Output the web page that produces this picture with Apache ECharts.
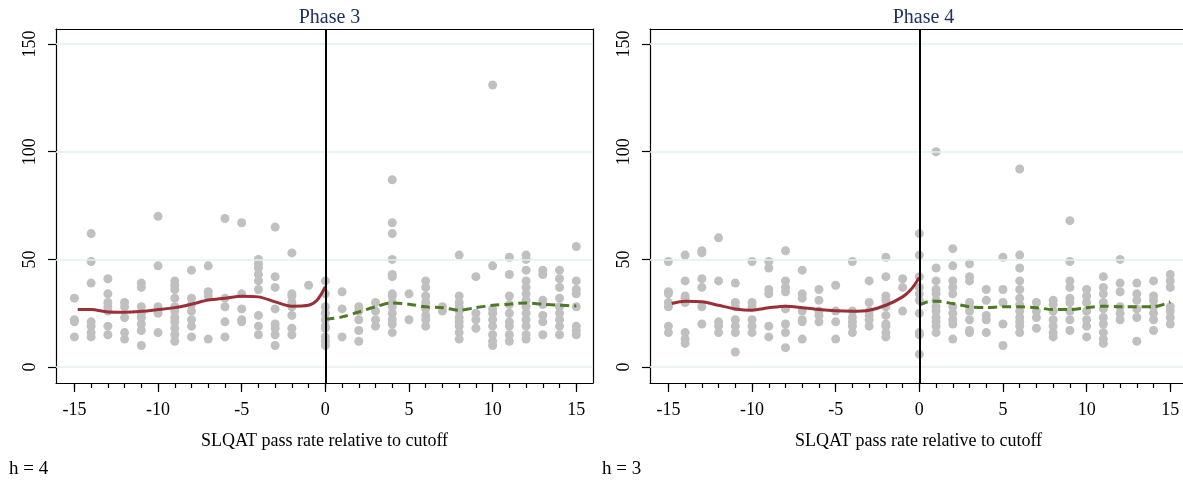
<!DOCTYPE html>
<html>
<head>
<meta charset="utf-8">
<script src="https://cdn.jsdelivr.net/npm/echarts@6/dist/echarts.min.js"></script>
<style>
html, body { margin: 0; padding: 0; background: #fff; }
#chart { width: 1183px; height: 483px; }
</style>
</head>
<body>
<div id="chart"></div>
<script>
// x positions (pass rate relative to cutoff), one column of dots per value
const xs = [-15, -14, -13, -12, -11, -10, -9, -8, -7, -6, -5, -4, -3, -2, -1, 0,
  1, 2, 3, 4, 5, 6, 7, 8, 9, 10, 11, 12, 13, 14, 15]

const phase3Cols = [
  [32, 22, 21, 14],
  [62, 49, 39, 21, 19, 16, 14],
  [41, 34, 30, 28, 26, 19, 15],
  [30, 28, 23, 16, 13],
  [39, 37, 28, 25, 23, 20, 17, 10],
  [70, 47, 28, 25, 16],
  [40, 38, 36, 32, 28, 26, 23, 21, 18, 15, 12],
  [45, 32, 29, 26, 22, 19, 14],
  [47, 35, 33, 13],
  [69, 32, 28, 21, 14],
  [67, 34, 27, 22, 21],
  [50, 48, 46, 43, 40, 36, 24, 19, 15],
  [65, 42, 37, 27, 20, 18, 15, 10],
  [53, 34, 33, 30, 28, 24, 18, 15],
  [38],
  [40, 34, 28, 25, 22, 19, 18, 14, 12, 10],
  [35, 27, 14],
  [28, 26, 22, 17, 12],
  [30, 26, 22, 19],
  [87, 67, 62, 50, 43, 42, 34, 33, 30, 28, 25, 22, 20, 16],
  [34, 22],
  [40, 37, 33, 30, 27, 24, 22, 19],
  [28, 26],
  [52, 33, 30, 28, 26, 23, 21, 19, 16, 13],
  [42, 25, 22, 18],
  [131, 47, 27, 25, 22, 19, 15, 12, 10],
  [51, 43, 33, 29, 25, 21, 19, 15, 12],
  [52, 50, 45, 40, 37, 34, 31, 28, 25, 22, 19, 15, 13],
  [45, 43, 31, 29, 24, 21, 15],
  [45, 41, 37, 32, 28, 25, 22, 19, 15],
  [56, 40, 36, 34, 28, 19, 17, 15]
]

const phase4Cols = [
  [49, 35, 34, 30, 28, 19, 16],
  [52, 40, 33, 32, 30, 16, 13, 11],
  [54, 53, 41, 37, 28, 20],
  [60, 40, 21, 19, 16],
  [39, 30, 28, 22, 19, 16, 7],
  [49, 30, 28, 22, 19, 16],
  [49, 46, 36, 34, 19, 14],
  [54, 40, 37, 35, 27, 20, 16, 9],
  [45, 34, 32, 26, 22, 21, 13],
  [36, 31, 26, 24, 21],
  [38, 26, 21, 13],
  [49, 26, 23, 21, 19, 16],
  [40, 30, 26, 24, 22, 19],
  [51, 42, 33, 31, 28, 24, 20, 19, 16, 14],
  [41, 37, 26],
  [62, 52, 42, 37, 34, 31, 25, 16, 15, 6],
  [100, 46, 40, 36, 34, 31, 28, 26, 23, 21, 19, 16],
  [55, 47, 40, 37, 34, 28, 25, 22, 20, 13],
  [48, 42, 40, 30, 28, 26, 22, 17, 16],
  [36, 31, 24, 22, 16],
  [51, 36, 30, 20, 10],
  [92, 52, 46, 40, 36, 32, 29, 26, 23, 21, 19, 16],
  [30, 26, 23, 18],
  [31, 29, 26, 22, 19, 16, 14],
  [68, 49, 40, 37, 32, 30, 26, 22, 17],
  [36, 33, 30, 26, 22, 19, 14],
  [42, 37, 34, 30, 27, 23, 20, 16, 13, 11],
  [50, 39, 35, 28, 25, 22],
  [39, 34, 31, 27, 23, 12],
  [40, 33, 31, 28, 25, 22, 17],
  [43, 40, 37, 28, 26, 23, 20]
]

// local fits left / right of the cutoff
const leftFitX = [-14.8, -14, -13, -12, -11, -10, -9, -8, -7, -6, -5, -4, -3, -2, -1, -0.5, 0]
const phase3LeftFit = [26.7, 26.7, 25.6, 25.5, 25.9, 26.7, 27.6, 29.2, 31.1, 32, 32.9, 32.6, 30.3, 28.3, 28.7, 31, 37.3]
const phase4LeftFit = [29.5, 30.6, 30.3, 28.7, 27, 26.4, 27.5, 28.3, 27.6, 26.7, 26.1, 25.9, 26.4, 28.7, 32.6, 36, 41.6]

const phase3RightX = [0, 1, 2, 3, 4, 5, 6, 7, 8, 9, 10, 11, 12, 13, 14, 15]
const phase3RightFit = [22.2, 23.3, 25.6, 28, 29.8, 29.2, 28, 27.6, 26.4, 27.6, 28.7, 29.2, 29.8, 29.2, 28.7, 28.4]
const phase4RightX = [0, 0.5, 1, 2, 3, 4, 5, 6, 7, 8, 9, 10, 11, 12, 13, 14, 15]
const phase4RightFit = [28.7, 30.3, 30.6, 29.5, 28, 27.6, 28, 28, 27.6, 26.7, 26.7, 27.6, 28.3, 28, 28, 28, 30.3]

const xMajorTicks = [-15, -10, -5, 0, 5, 10, 15]
const yTicks = [0, 50, 100, 150]
const panelTitles = ['Phase 3', 'Phase 4']
const bandwidthNotes = ['h = 4', 'h = 3']

const font = 'Liberation Serif'

function toPoints(cols) {
  const pts = []
  cols.forEach((col, i) => col.forEach(v => pts.push([xs[i], v])))
  return pts
}
function zip(a, b) {
  return a.map((v, i) => [v, b[i]])
}

const panels = [
  { left: 56, cols: phase3Cols, lf: phase3LeftFit, rx: phase3RightX, rf: phase3RightFit },
  { left: 650, cols: phase4Cols, lf: phase4LeftFit, rx: phase4RightX, rf: phase4RightFit }
]
const plotW = 537
const axisLineStyle = { color: '#000', width: 1.2 }

const grid = []
const xAxis = []
const yAxis = []
const series = []
const title = []

panels.forEach((p, k) => {
  grid.push({
    left: p.left, top: 29, width: plotW, height: 354,
    outerBoundsMode: 'none', containLabel: false, show: false
  })
  // minor ticks at every integer
  xAxis.push({
    type: 'value', gridIndex: k, min: -16.1, max: 16, position: 'bottom',
    axisLine: { show: true, onZero: false, lineStyle: axisLineStyle },
    axisTick: { show: true, length: 5, customValues: xs, lineStyle: axisLineStyle },
    axisLabel: { show: false },
    splitLine: { show: false }
  })
  // major ticks + labels
  xAxis.push({
    type: 'value', gridIndex: k, min: -16.1, max: 16, position: 'bottom',
    axisLine: { show: false, onZero: false },
    axisTick: { show: true, length: 9, customValues: xMajorTicks, lineStyle: axisLineStyle },
    axisLabel: { customValues: xMajorTicks, margin: 18, color: '#000', fontFamily: font, fontSize: 18 },
    splitLine: { show: false },
    name: 'SLQAT pass rate relative to cutoff', nameLocation: 'middle', nameGap: 49,
    nameTextStyle: { color: '#000', fontFamily: font, fontSize: 18 }
  })
  // top frame line
  xAxis.push({
    type: 'value', gridIndex: k, min: -16.1, max: 16, position: 'top',
    axisLine: { show: true, onZero: false, lineStyle: axisLineStyle },
    axisTick: { show: false }, axisLabel: { show: false }, splitLine: { show: false }
  })
  yAxis.push({
    type: 'value', gridIndex: k, min: -7.4, max: 157, position: 'left',
    axisLine: { show: true, onZero: false, lineStyle: axisLineStyle },
    axisTick: { show: true, length: 8, customValues: yTicks, lineStyle: axisLineStyle },
    axisLabel: { customValues: yTicks, rotate: 90, margin: 17, color: '#000', fontFamily: font, fontSize: 18 },
    splitLine: { show: false }
  })
  // right frame line (falls outside the canvas for the second panel)
  yAxis.push({
    type: 'value', gridIndex: k, min: -7.4, max: 157, position: 'right',
    axisLine: { show: k === 0, onZero: false, lineStyle: axisLineStyle },
    axisTick: { show: false }, axisLabel: { show: false }, splitLine: { show: false }
  })
  series.push({
    type: 'scatter', xAxisIndex: 3 * k, yAxisIndex: 2 * k,
    data: toPoints(p.cols), symbolSize: 9,
    itemStyle: { color: '#c0c0c0', opacity: 1 },
    z: 2,
    markLine: {
      silent: true, symbol: 'none', animation: false,
      label: { show: false },
      data: yTicks.map(v => ({ yAxis: v, lineStyle: { color: '#e6eff2', width: 1.5, type: 'solid' } }))
        .concat([{ xAxis: 0, lineStyle: { color: '#000', width: 2, type: 'solid' } }])
    }
  })
  series.push({
    type: 'line', xAxisIndex: 3 * k, yAxisIndex: 2 * k,
    data: zip(leftFitX, p.lf), smooth: 0.3, showSymbol: false,
    lineStyle: { color: '#9a2f38', width: 3 }, z: 4
  })
  series.push({
    type: 'line', xAxisIndex: 3 * k, yAxisIndex: 2 * k,
    data: zip(p.rx, p.rf), smooth: 0.3, showSymbol: false,
    lineStyle: { color: '#4e7a26', width: 3, type: [9, 5] }, z: 4
  })
  title.push({
    text: panelTitles[k], left: p.left + plotW / 2, top: 3, textAlign: 'center',
    textStyle: { color: '#1f3260', fontFamily: font, fontSize: 20, fontWeight: 'normal' }
  })
  title.push({
    text: bandwidthNotes[k], left: k === 0 ? 4 : 597, top: 455,
    textStyle: { color: '#000', fontFamily: font, fontSize: 19, fontWeight: 'normal' }
  })
})

const chart = echarts.init(document.getElementById('chart'))
chart.setOption({
  animation: false,
  backgroundColor: '#fff',
  title: title,
  grid: grid,
  xAxis: xAxis,
  yAxis: yAxis,
  series: series
})
</script>
</body>
</html>
